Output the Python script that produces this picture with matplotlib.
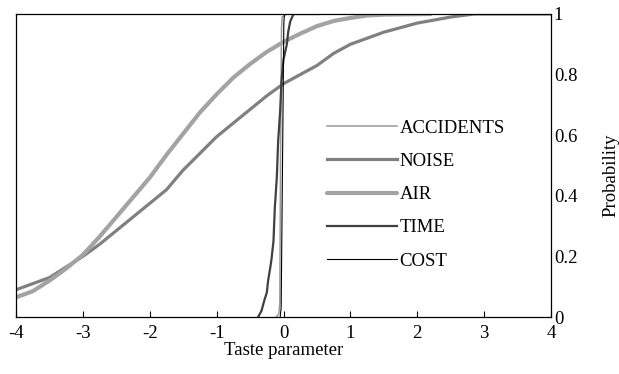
#!/usr/bin/env python3
"""Cumulative distributions of taste parameters (ACCIDENTS, NOISE, AIR, TIME, COST)."""

import matplotlib

matplotlib.use("Agg")
import matplotlib.pyplot as plt

plt.rcParams["font.family"] = ["Liberation Serif", "DejaVu Serif"]

air_x = [-4.0, -3.75, -3.5, -3.25, -3.0, -2.75, -2.5, -2.25, -2.0, -1.75, -1.5, -1.25,
         -1.0, -0.75, -0.5, -0.25, 0.0, 0.25, 0.5, 0.75, 1.0, 1.25, 1.5, 2.2]
air_p = [0.065, 0.085, 0.12, 0.16, 0.205, 0.265, 0.33, 0.395, 0.46, 0.535, 0.605, 0.675,
         0.735, 0.79, 0.835, 0.875, 0.908, 0.935, 0.96, 0.977, 0.987, 0.995, 0.998, 1.0]

noise_x = [-4.0, -3.75, -3.5, -3.25, -3.0, -2.75, -2.5, -2.25, -2.0, -1.75, -1.5, -1.25,
           -1.0, -0.75, -0.5, -0.25, 0.0, 0.25, 0.5, 0.75, 1.0, 1.25, 1.5, 1.75, 2.0,
           2.25, 2.5, 2.85, 4.0]
noise_p = [0.09, 0.11, 0.13, 0.165, 0.20, 0.24, 0.285, 0.33, 0.375, 0.42, 0.485, 0.54,
           0.595, 0.64, 0.685, 0.73, 0.77, 0.80, 0.83, 0.87, 0.90, 0.92, 0.94, 0.955, 0.97,
           0.98, 0.99, 1.0, 1.0]

time_x = [-0.38, -0.33, -0.28, -0.25, -0.23, -0.20, -0.18, -0.15, -0.13, -0.10, -0.08,
          -0.05, -0.03, 0.00, 0.05, 0.07, 0.10, 0.15, 0.52]
time_p = [0.0, 0.02, 0.06, 0.08, 0.12, 0.16, 0.19, 0.25, 0.36, 0.46, 0.58,
          0.68, 0.78, 0.85, 0.90, 0.94, 0.975, 1.0, 1.0]

accidents_x = [-0.11, -0.07, -0.055, -0.045, -0.03, -0.02, 0.05]
accidents_p = [0.0, 0.01, 0.05, 0.5, 0.95, 0.99, 1.0]

cost_x = [-0.05, -0.035, -0.015, 0.005, 0.015]
cost_p = [0.0, 0.03, 0.5, 0.97, 1.0]

x_ticks = [-4, -3, -2, -1, 0, 1, 2, 3, 4]
y_ticks = [0, 0.2, 0.4, 0.6, 0.8, 1]
y_tick_labels = ["0", "0.2", "0.4", "0.6", "0.8", "1"]

FONT_SIZE = 13.5


def main() -> int:
    fig = plt.figure(figsize=(6.19, 3.74), dpi=100)
    ax = fig.add_axes([16 / 619, 57 / 374, 535 / 619, 303 / 374])

    ax.plot(accidents_x, accidents_p, color="#9a9a9a", linewidth=1.1, label="ACCIDENTS")
    ax.plot(noise_x, noise_p, color="#808080", linewidth=2.3, label="NOISE")
    ax.plot(air_x, air_p, color="#a3a3a3", linewidth=3.0, label="AIR",
            solid_capstyle="round")
    ax.plot(time_x, time_p, color="#404040", linewidth=1.6, label="TIME")
    ax.plot(cost_x, cost_p, color="black", linewidth=0.8, label="COST")

    ax.set_xlim(-4, 4)
    ax.set_ylim(0, 1)
    ax.set_xticks(x_ticks)
    ax.set_xticklabels([str(v) for v in x_ticks])
    ax.set_yticks(y_ticks)
    ax.set_yticklabels(y_tick_labels)

    ax.tick_params(axis="x", direction="in", length=4, width=0.8, pad=6,
                   labelsize=FONT_SIZE)
    ax.tick_params(axis="y", left=False, labelleft=False, right=True, labelright=True,
                   length=0, pad=2, labelsize=FONT_SIZE)
    for spine in ax.spines.values():
        spine.set_linewidth(0.9)

    ax.set_xlabel("Taste parameter", fontsize=FONT_SIZE, labelpad=0)
    fig.text(611 / 619, 1 - 175 / 374, "Probability", rotation=90, ha="center",
             va="center", fontsize=FONT_SIZE)

    fig.legend(loc="center left", bbox_to_anchor=(327 / 619, 1 - 194.5 / 374),
               frameon=False, fontsize=FONT_SIZE, handlelength=3.73,
               handletextpad=0.15, labelspacing=0.86, borderpad=0, borderaxespad=0)

    fig.savefig("out.png", dpi=100)
    plt.close(fig)
    return 0


if __name__ == "__main__":
    raise SystemExit(main())
